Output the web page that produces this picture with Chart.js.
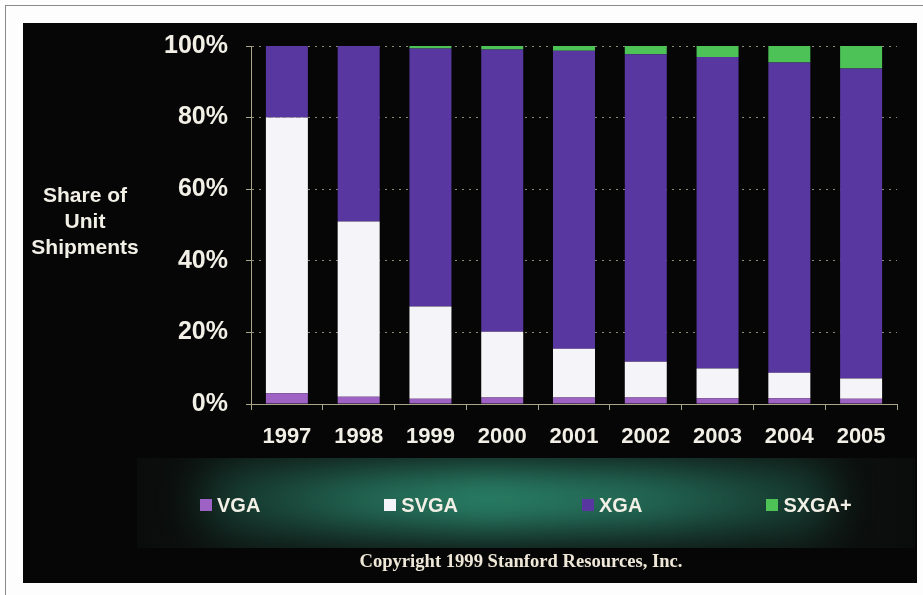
<!DOCTYPE html>
<html>
<head>
<meta charset="utf-8">
<script src="https://cdn.jsdelivr.net/npm/chart.js@4"></script>
<style>
  body { margin: 0; background: #fff; }
  #wrap { position: relative; width: 923px; height: 595px; overflow: hidden; background: #fdfdfd; }
  .frame { position: absolute; left: 5px; top: 5px; width: 930px; height: 600px; border-left: 1px solid #8a8a8a; border-top: 1px solid #8a8a8a; }
  .panel { position: absolute; left: 23px; top: 23px; width: 894px; height: 560px; background: #060606; }
  .band { position: absolute; left: 137px; top: 458px; width: 778px; height: 90px; overflow: hidden;
    background: linear-gradient(90deg, #0a0c0b, #0e1412 15%, #0e1412 85%, #0a0c0b); }
  .glow { position: absolute; left: 60px; top: 8px; width: 640px; height: 66px;
    background: linear-gradient(90deg, rgba(30,95,76,0.35) 0%, rgba(40,125,100,0.85) 28%, #2a8469 45%, rgba(38,118,95,0.9) 70%, rgba(30,95,76,0.4) 100%);
    border-radius: 30px; filter: blur(20px); }
  canvas { position: absolute; left: 0; top: 0; }
  #ylab { position: absolute; left: 0; top: 182px; width: 170px; text-align: center;
    font: bold 21px 'Liberation Sans', Arial, sans-serif; line-height: 26px; color: #f2f0e6; }
  #legend { position: absolute; left: 200px; top: 495px; display: flex; gap: 124px;
    font: bold 20px 'Liberation Sans', Arial, sans-serif; line-height: 20px; color: #f2f0e6; }
  #legend .it { display: inline-flex; align-items: center; }
  #legend .sw { width: 12px; height: 12px; margin-right: 5px; }
  #copy { position: absolute; left: 221px; width: 600px; top: 550px; text-align: center;
    font: bold 18.6px 'Liberation Serif', 'Times New Roman', serif; line-height: 22px; color: #efe8d8; }
</style>
</head>
<body>
<div id="wrap">
  <div class="frame"></div>
  <div class="panel"></div>
  <div class="band"><div class="glow"></div></div>
  <canvas id="c" width="923" height="595"></canvas>
  <div id="ylab">Share of<br>Unit<br>Shipments</div>
  <div id="legend"></div>
  <div id="copy">Copyright 1999 Stanford Resources, Inc.</div>
</div>
<script>
// Share of unit shipments by resolution, 1997-2005 (%)
const years = ['1997', '1998', '1999', '2000', '2001', '2002', '2003', '2004', '2005'];
const vga   = [3, 2, 1.5, 1.8, 1.8, 1.8, 1.6, 1.6, 1.5];
const svga  = [77, 49, 25.7, 18.4, 13.6, 10, 8.3, 7.1, 5.6];
const xga   = [20, 49, 72.1, 78.8, 83.3, 85.9, 87, 86.7, 86.6];
const sxga  = [0, 0, 0.7, 1, 1.3, 2.3, 3.1, 4.6, 6.3];
const yTicks = [0, 20, 40, 60, 80, 100];

const seriesNames  = ['VGA', 'SVGA', 'XGA', 'SXGA+'];
const seriesColors = ['#9d62c4', '#f5f4f8', '#5838a0', '#4cc257'];

const TXT = '#f2f0e6';
const AXIS = '#a9a68a';
const FONT = "'Liberation Sans', Arial, sans-serif";

const datasets = [vga, svga, xga, sxga].map((d, i) => ({
  label: seriesNames[i],
  data: d,
  backgroundColor: seriesColors[i],
  borderWidth: 0,
  barPercentage: 0.585,
  categoryPercentage: 1,
}));

new Chart(document.getElementById('c'), {
  type: 'bar',
  data: { labels: years, datasets },
  options: {
    responsive: false,
    animation: false,
    layout: { padding: { top: 46, right: 26, bottom: 0, left: 0 } },
    plugins: { legend: { display: false }, tooltip: { enabled: false } },
    scales: {
      x: {
        stacked: true,
        afterFit: (s) => { s.height = 191; },
        grid: { display: true, drawOnChartArea: false, drawTicks: true, tickLength: 6, tickColor: AXIS },
        border: { display: true, color: AXIS, width: 1 },
        ticks: { color: TXT, padding: 14, font: { family: FONT, size: 22, weight: 'bold' } },
      },
      y: {
        stacked: true,
        min: 0, max: 100,
        afterFit: (s) => { s.width = 251; },
        afterBuildTicks: (s) => { s.ticks = yTicks.map(v => ({ value: v })); },
        grid: { color: '#8e8c74', tickLength: 5, tickColor: AXIS, tickBorderDash: [] },
        border: { display: true, color: AXIS, width: 1, dash: [2, 5] },
        ticks: {
          color: TXT, padding: 18,
          font: { family: FONT, size: 25, weight: 'bold' },
          callback: (v) => v + '%',
        },
      },
    },
  },
});

// legend built from the same series lists
document.getElementById('legend').innerHTML = seriesNames.map((n, i) =>
  `<span class="it"><span class="sw" style="background:${seriesColors[i]}"></span>${n}</span>`
).join('');
</script>
</body>
</html>
